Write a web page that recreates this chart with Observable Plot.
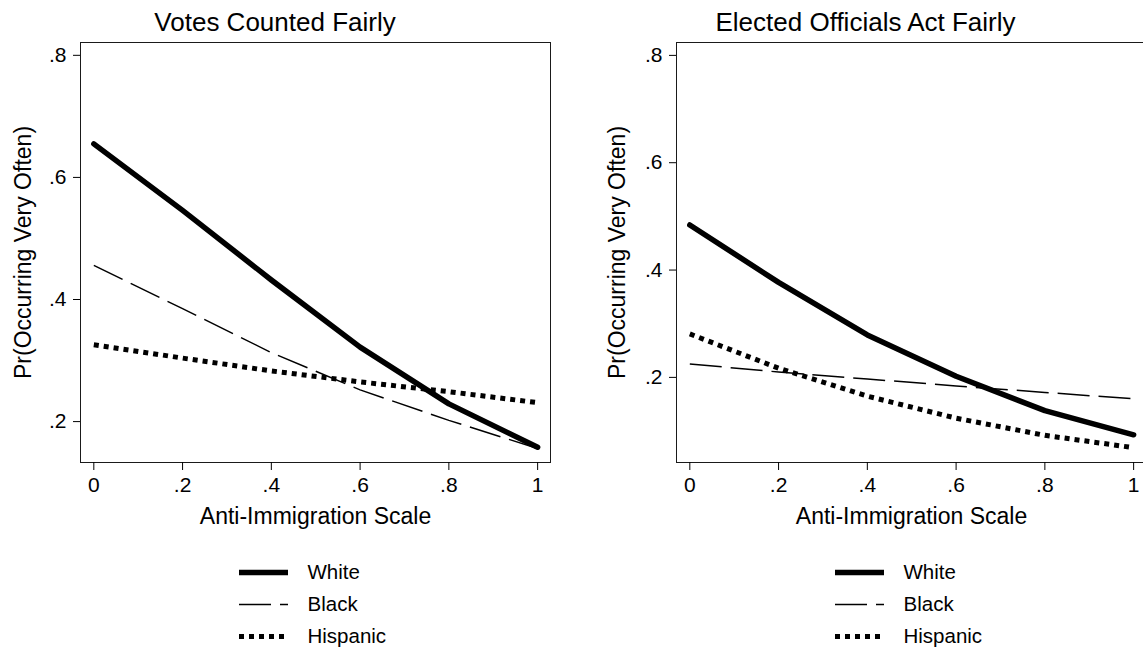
<!DOCTYPE html>
<html><head><meta charset="utf-8">
<script src="https://cdn.jsdelivr.net/npm/d3@7"></script>
<script src="https://cdn.jsdelivr.net/npm/@observablehq/plot@0.6"></script>
<style>
html,body{margin:0;padding:0;background:#fff;overflow:hidden;}
#root{position:relative;width:1143px;height:654px;overflow:hidden;font-family:"Liberation Sans",Arial,Helvetica,sans-serif;}
.abs{position:absolute;}
svg{max-width:none !important;}
g[aria-label$="tick label"]{font-size:21px;}
</style></head><body><div id="root"></div>
<script>
// ---- data ----
const xVals = [0, 0.2, 0.4, 0.6, 0.8, 1];
const xTickLabels = ["0", ".2", ".4", ".6", ".8", "1"];
const yTicks = [0.2, 0.4, 0.6, 0.8];
const yTickLabels = [".2", ".4", ".6", ".8"];
const seriesNames = ["White", "Black", "Hispanic"];
const panelTitles = ["Votes Counted Fairly", "Elected Officials Act Fairly"];
const xLabel = "Anti-Immigration Scale";
const yLabel = "Pr(Occurring Very Often)";

const votesWhite    = [0.655, 0.546, 0.432, 0.322, 0.229, 0.158];
const votesBlack    = [0.456, 0.385, 0.313, 0.252, 0.202, 0.156];
const votesHispanic = [0.326, 0.304, 0.283, 0.265, 0.249, 0.231];

const officialsWhite    = [0.484, 0.377, 0.279, 0.202, 0.138, 0.093];
const officialsBlack    = [0.225, 0.210, 0.197, 0.184, 0.172, 0.160];
const officialsHispanic = [0.281, 0.217, 0.165, 0.124, 0.092, 0.069];

// ---- styles ----
const lineStyle = {
  White:    {strokeWidth: 5.5, strokeLinecap: "round"},
  Black:    {strokeWidth: 1.5, strokeDasharray: "32,9", strokeLinecap: "butt"},
  Hispanic: {strokeWidth: 5, strokeDasharray: "5,5", strokeLinecap: "butt"}
};
const font = '"Liberation Sans", Arial, Helvetica, sans-serif';
const rows = vals => xVals.map((x, i) => ({x, y: vals[i]}));

function panel(cfg) {
  const data = {White: cfg.white, Black: cfg.black, Hispanic: cfg.hispanic};
  return Plot.plot({
    width: cfg.width, height: 540,
    marginLeft: cfg.marginLeft, marginRight: cfg.marginRight, marginTop: 42, marginBottom: 78,
    x: {domain: [-0.03, 1.029], axis: null},
    y: {domain: cfg.yDomain, axis: null},
    style: {fontFamily: font, background: "transparent", color: "black", overflow: "visible"},
    marks: [
      Plot.frame({stroke: "#1a1a1a"}),
      Plot.axisX(xVals, {anchor: "bottom", tickSize: 8, tickPadding: 7, fontSize: 21, label: null,
        tickFormat: d => xTickLabels[xVals.indexOf(d)]}),
      Plot.axisY(yTicks, {anchor: "left", tickSize: 7, tickPadding: 7, fontSize: 21, label: null,
        tickFormat: d => yTickLabels[yTicks.indexOf(d)]}),
      ...seriesNames.map(n => Plot.line(rows(data[n]), {x: "x", y: "y", stroke: "black", ...lineStyle[n]})),
      Plot.text([cfg.title], {text: d => d, frameAnchor: "top", textAnchor: "middle", dx: cfg.titleDx, dy: -20, fontSize: 26, lineAnchor: "middle"}),
      Plot.text([xLabel], {text: d => d, frameAnchor: "bottom", textAnchor: "middle", dy: 54, fontSize: 23, lineAnchor: "middle"}),
      Plot.text([yLabel], {text: d => d, frameAnchor: "left", textAnchor: "middle", dx: cfg.yLabelDx, rotate: -90, fontSize: 23, lineAnchor: "middle"})
    ]
  });
}

function legend() {
  return Plot.plot({
    width: 200, height: 110,
    marginLeft: 0, marginRight: 151, marginTop: 21, marginBottom: 24,
    x: {domain: [0, 1], axis: null},
    y: {type: "point", domain: seriesNames, padding: 0, axis: null},
    style: {fontFamily: font, background: "transparent", color: "black", overflow: "visible"},
    marks: [
      ...seriesNames.map(n => Plot.ruleY([n], {y: d => d, stroke: "black", ...lineStyle[n], strokeLinecap: "butt"})),
      Plot.text(seriesNames, {y: d => d, text: d => d, frameAnchor: "right", textAnchor: "start", dx: 19, fontSize: 20.5, lineAnchor: "middle"})
    ]
  });
}

const root = document.getElementById("root");
function place(el, left, top) {
  const d = document.createElement("div");
  d.className = "abs";
  d.style.left = left + "px";
  d.style.top = top + "px";
  d.appendChild(el);
  root.appendChild(d);
}

place(panel({width: 571, marginLeft: 80, marginRight: 21, yDomain: [0.133, 0.821],
  white: votesWhite, black: votesBlack, hispanic: votesHispanic,
  title: panelTitles[0], titleDx: -40.5, yLabelDx: -57}), 0, 0);
place(panel({width: 573, marginLeft: 100, marginRight: 3, yDomain: [0.0414, 0.824],
  white: officialsWhite, black: officialsBlack, hispanic: officialsHispanic,
  title: panelTitles[1], titleDx: -46, yLabelDx: -59}), 576, 0);
place(legend(), 239, 550);
place(legend(), 835, 550);
</script>
</body></html>
